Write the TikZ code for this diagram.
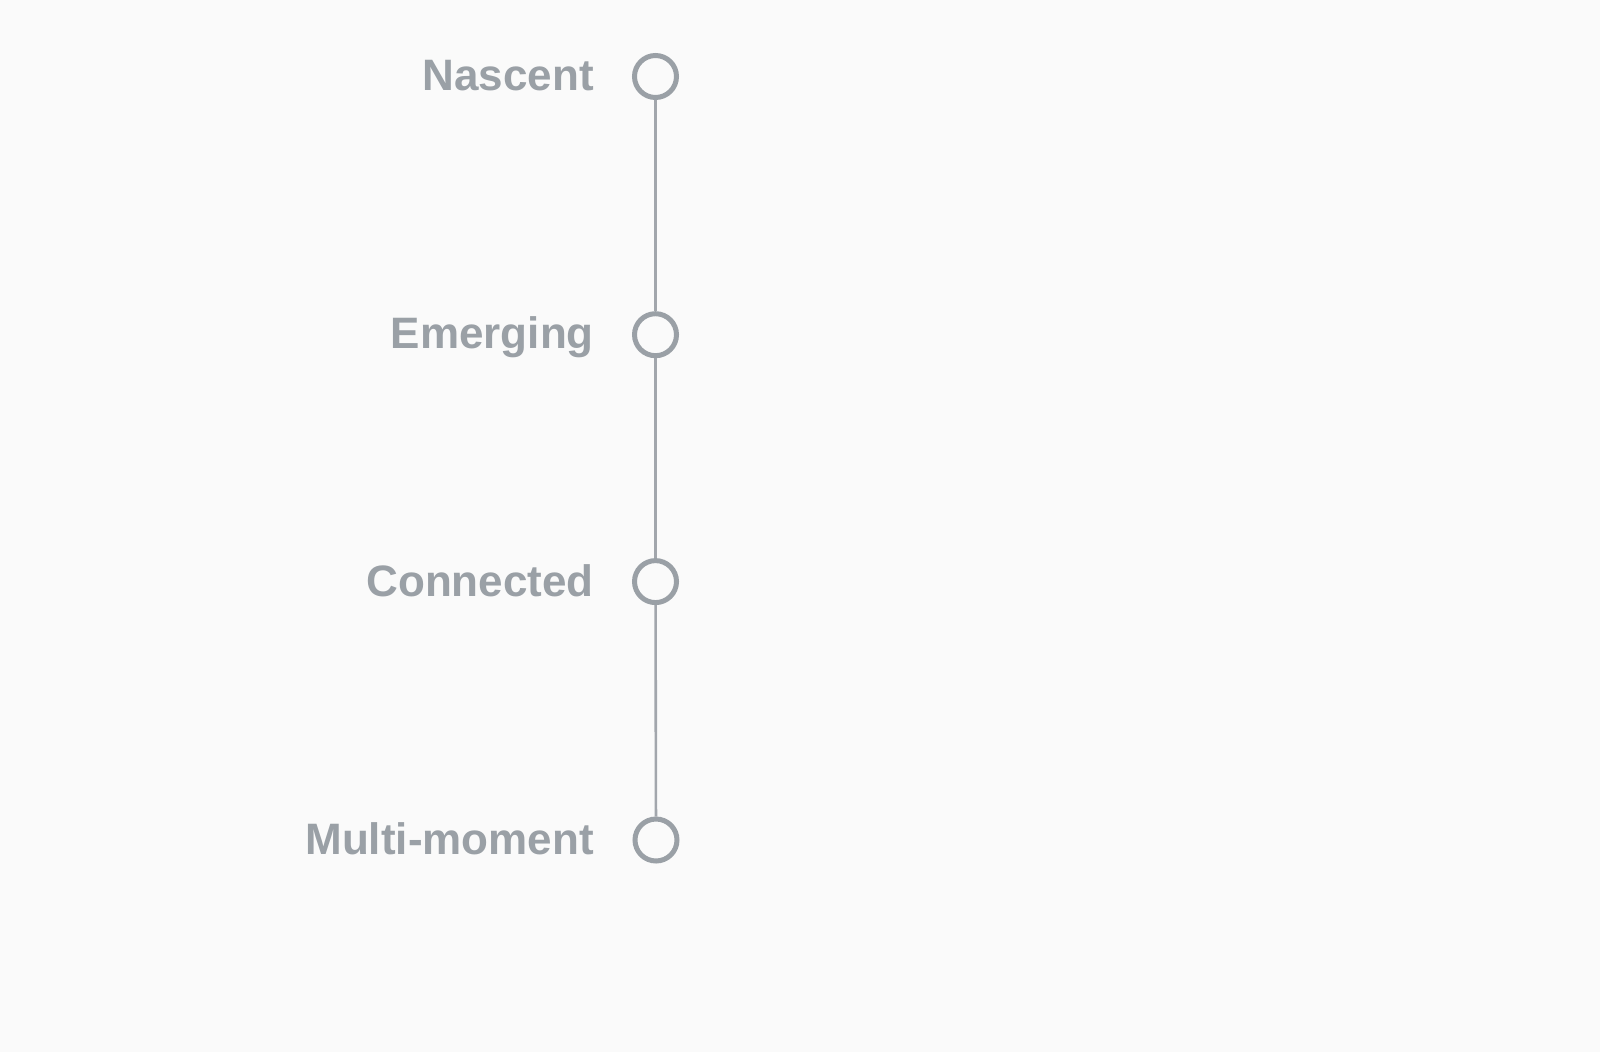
\documentclass[tikz,border=0pt]{standalone}
\usepackage{fontspec}
\setmainfont{Liberation Sans}
\definecolor{bg}{HTML}{FAFAFA}
\definecolor{tgray}{HTML}{9AA0A6}
\definecolor{lgray}{HTML}{A2A6AC}
\tikzset{
  stage/.style={circle, draw=tgray, line width=5pt, fill=bg, minimum size=42pt, inner sep=0pt},
  stagelabel/.style={anchor=base east, text=tgray, font=\fontsize{44}{50}\selectfont\bfseries, inner sep=0pt},
  link/.style={draw=lgray, line width=2.6pt}
}
\begin{document}
\begin{tikzpicture}[x=1pt,y=-1pt]
\fill[bg] (0,0) rectangle (1600,1052);
\useasboundingbox (0,0) rectangle (1600,1052);
\node[stage] (c1) at (655.5,76.5) {};
\node[stage] (c2) at (655.5,334.7) {};
\node[stage] (c3) at (655.5,581.6) {};
\node[stage] (c4) at (656,840) {};
\draw[link] (c1) -- (c2);
\draw[link] (c2) -- (c3);
\draw[link] (c3) -- (c4);
\node[stagelabel] (t1) at (594,90.5) {Nascent};
\node[stagelabel] (t2) at (594,348.5) {Emerging};
\node[stagelabel] (t3) at (594,596) {Connected};
\node[stagelabel] (t4) at (594,854.5) {Multi-moment};
\end{tikzpicture}
\end{document}
